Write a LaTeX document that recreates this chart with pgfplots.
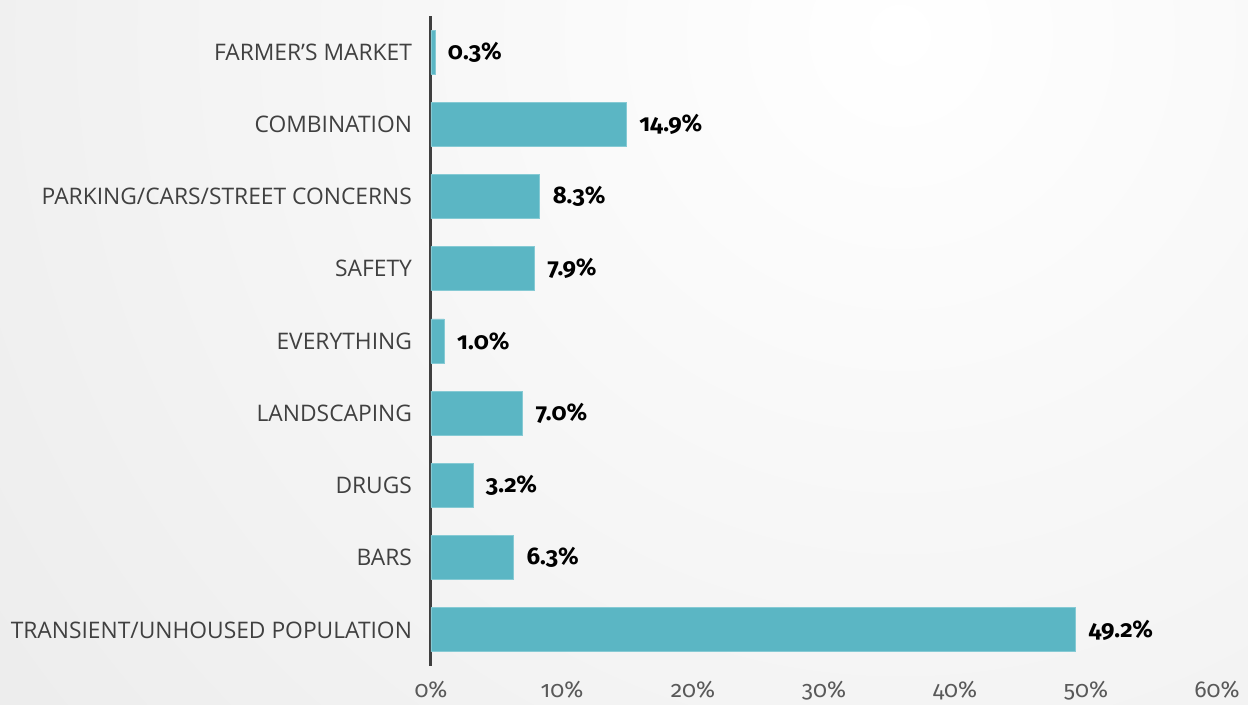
\documentclass[border=0pt]{standalone}
\usepackage{pgfplots}
\pgfplotsset{compat=1.18}
\usepackage{fontspec}
\setmainfont{Open Sans}
\newfontfamily\numfont{Fira Sans}[Numbers=OldStyle]
\definecolor{barblue}{HTML}{5BB6C4}
\definecolor{baredge}{HTML}{86CAD4}
\definecolor{axisgray}{HTML}{3F3F3F}
\definecolor{labgray}{HTML}{404040}
\definecolor{tickgray}{HTML}{595959}
\definecolor{bgout}{HTML}{D9D9D9}
\pgfdeclareradialshading{bgshade}{\pgfpoint{0bp}{0bp}}{color(0bp)=(white); color(50bp)=(bgout); color(100bp)=(bgout)}
\begin{document}
\begin{tikzpicture}
\begin{scope}
\clip (0,0) rectangle (624pt,352.5pt);
\shade[shading=bgshade] (450pt-580pt,335pt-580pt) rectangle (450pt+580pt,335pt+580pt);
\end{scope}
\begin{axis}[
  at={(215.5pt,19.5pt)}, anchor=south west,
  scale only axis, width=393pt, height=325pt,
  xbar, bar width=22pt,
  xmin=0, xmax=60, ymin=-0.5, ymax=8.5,
  ytick={0,...,8},
  yticklabels={TRANSIENT/UNHOUSED POPULATION, BARS, DRUGS, LANDSCAPING, EVERYTHING, SAFETY, PARKING/CARS/STREET CONCERNS, COMBINATION, FARMER’S MARKET},
  xtick={0,10,...,60},
  xticklabels={0\%,10\%,20\%,30\%,40\%,50\%,60\%},
  axis x line*=bottom, axis y line*=left,
  x axis line style={draw=none},
  y axis line style={draw=axisgray, line width=1.5pt},
  major tick length=0pt,
  tick style={draw=none},
  xticklabel style={font=\fontsize{11.5}{13}\selectfont\numfont\addfontfeature{Numbers=OldStyle}, text=tickgray, yshift=-4pt},
  yticklabel style={font=\fontsize{11.4}{13}\selectfont, text=labgray, xshift=-6pt},
  point meta=x,
  nodes near coords={\pgfmathprintnumber[fixed, fixed zerofill, precision=1, assume math mode=true]{\pgfplotspointmeta}\%},
  nodes near coords style={font=\fontsize{12}{14}\selectfont\numfont\bfseries\addfontfeature{Numbers=OldStyle}, text=black, anchor=west, xshift=3pt},
  clip=false,
]
\addplot[fill=barblue, draw=baredge, line width=0.4pt] coordinates {
  (49.2,0) (6.3,1) (3.2,2) (7.0,3) (1.0,4) (7.9,5) (8.3,6) (14.9,7) (0.3,8)
};
\end{axis}
\pgfresetboundingbox
\path (0,0) rectangle (624pt,352.5pt);
\end{tikzpicture}
\end{document}
